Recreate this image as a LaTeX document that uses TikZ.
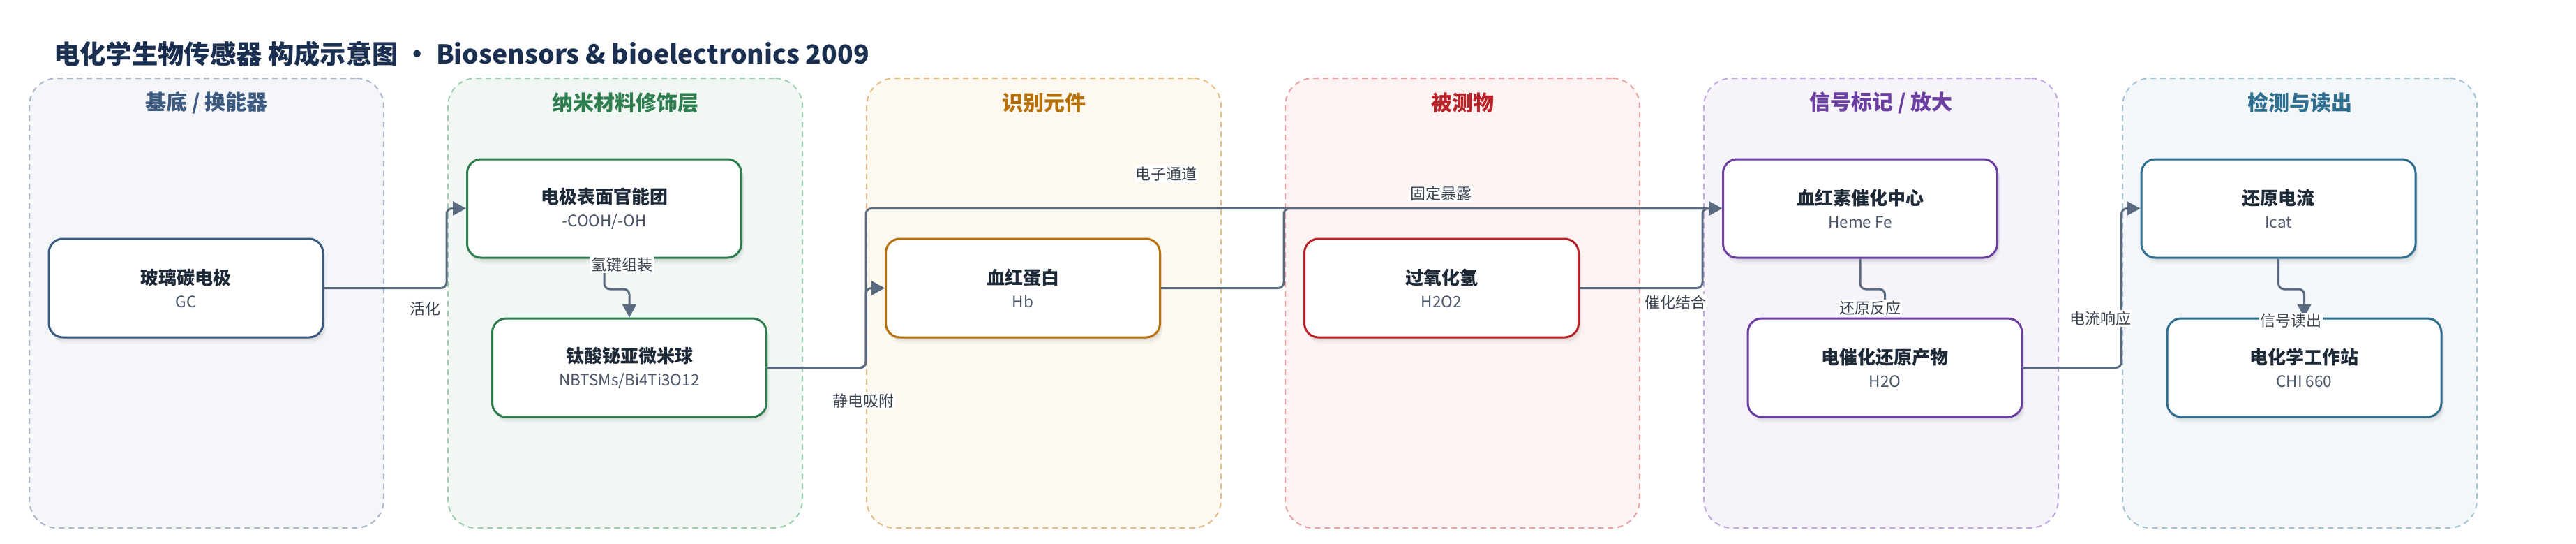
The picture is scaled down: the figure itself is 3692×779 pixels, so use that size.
\documentclass[tikz,border=0pt]{standalone}
\usepackage{fontspec}
\setmainfont{Noto Sans CJK SC}
\usetikzlibrary{arrows.meta,shadows,calc}
\definecolor{titlecol}{HTML}{1B3050}
\definecolor{pfa}{HTML}{F4F6FA}\definecolor{pda}{HTML}{A9B5C8}\definecolor{pta}{HTML}{3D5A80}
\definecolor{pfb}{HTML}{F1F8F3}\definecolor{pdb}{HTML}{9CCDB0}\definecolor{ptb}{HTML}{2E7D4F}
\definecolor{pfc}{HTML}{FDF8F0}\definecolor{pdc}{HTML}{E3BC85}\definecolor{ptc}{HTML}{B5700A}
\definecolor{pfd}{HTML}{FDF3F3}\definecolor{pdd}{HTML}{E8A0A0}\definecolor{ptd}{HTML}{B82228}
\definecolor{pfe}{HTML}{F6F3FB}\definecolor{pde}{HTML}{BFA6DE}\definecolor{pte}{HTML}{6B3FA0}
\definecolor{pff}{HTML}{F3F7F9}\definecolor{pdf}{HTML}{A3C3D3}\definecolor{ptf}{HTML}{2E6E8E}
\definecolor{edgecol}{HTML}{5A6A80}
\definecolor{nodetext}{HTML}{1E2A38}
\definecolor{subtext}{HTML}{4A5568}
\definecolor{labeltext}{HTML}{3A4350}
\begin{document}
\begin{tikzpicture}[x=1pt,y=1pt,
  panel/.style={draw, dashed, dash pattern=on 8pt off 6pt, line width=2pt, rounded corners=40pt,
    minimum width=508pt, minimum height=644pt, inner sep=0pt},
  ptitle/.style={font=\bfseries\fontsize{30}{34}\selectfont, inner sep=0pt},
  box/.style={draw, line width=3pt, rounded corners=20pt, fill=white,
    minimum width=393pt, minimum height=141pt, align=center, inner sep=0pt,
    font=\fontsize{22.5}{33}\selectfont, text=subtext,
    general shadow={fill=black, opacity=0.04, shadow xshift=2pt, shadow yshift=-3pt},
    general shadow={fill=black, opacity=0.04, shadow xshift=3pt, shadow yshift=-6pt},
    general shadow={fill=black, opacity=0.03, shadow xshift=4pt, shadow yshift=-9pt}},
  edge/.style={draw=edgecol, line width=3pt, rounded corners=8pt,
    -{Triangle[length=19pt,width=20pt]}},
  lbl/.style={fill=white, inner sep=1.5pt, text=labeltext, font=\fontsize{22}{26}\selectfont}
]
\useasboundingbox (0,0) rectangle (3692,-779);
\newcommand{\bt}[2]{{\bfseries\color{nodetext}\fontsize{26}{33}\selectfont #1}\\#2}

% title
\node[anchor=west, inner sep=0pt, text=titlecol, font=\bfseries\fontsize{37.3}{42}\selectfont]
  (title) at (77,-77) {电化学生物传感器 构成示意图 · Biosensors \& bioelectronics 2009};

% panels
\node[panel, fill=pfa, draw=pda] (p1) at (296,-434) {};
\node[panel, fill=pfb, draw=pdb] (p2) at (896,-434) {};
\node[panel, fill=pfc, draw=pdc] (p3) at (1496,-434) {};
\node[panel, fill=pfd, draw=pdd] (p4) at (2096,-434) {};
\node[panel, fill=pfe, draw=pde] (p5) at (2696,-434) {};
\node[panel, fill=pff, draw=pdf] (p6) at (3296,-434) {};

\node[ptitle, text=pta] (t1) at (296,-147) {基底 / 换能器};
\node[ptitle, text=ptb] (t2) at (896,-147) {纳米材料修饰层};
\node[ptitle, text=ptc] (t3) at (1496,-147) {识别元件};
\node[ptitle, text=ptd] (t4) at (2096,-147) {被测物};
\node[ptitle, text=pte] (t5) at (2696,-147) {信号标记 / 放大};
\node[ptitle, text=ptf] (t6) at (3296,-147) {检测与读出};

% nodes
\node[box, draw=pta] (gc) at (266.5,-412.5) {\bt{玻璃碳电极}{GC}};
\node[box, draw=ptb] (fg) at (866,-298.5) {\bt{电极表面官能团}{-COOH/-OH}};
\node[box, draw=ptb] (nbt) at (902,-526.5) {\bt{钛酸铋亚微米球}{NBTSMs/Bi4Ti3O12}};
\node[box, draw=ptc] (hb) at (1466,-412.5) {\bt{血红蛋白}{Hb}};
\node[box, draw=ptd] (hp) at (2066,-412.5) {\bt{过氧化氢}{H2O2}};
\node[box, draw=pte] (heme) at (2666,-298.5) {\bt{血红素催化中心}{Heme Fe}};
\node[box, draw=pte] (water) at (2701.5,-526.5) {\bt{电催化还原产物}{H2O}};
\node[box, draw=ptf] (icat) at (3265.5,-298.5) {\bt{还原电流}{Icat}};
\node[box, draw=ptf] (chi) at (3302.5,-526.5) {\bt{电化学工作站}{CHI 660}};

% connectors
\draw[edge] (gc.east) -| ([xshift=-28pt]fg.west) -- (fg.west);
\draw[edge] (fg.south) -- ++(0,-43.5) -| (nbt.north);
\draw[edge] (nbt.east) -| ([xshift=-27pt]hb.west) -- (hb.west);
\draw[edge] (nbt.east) -| ($(hb.west |- heme.west)+(-27,0)$) -- (heme.west);
\draw[edge] (hb.east) -| ($(hp.west |- heme.west)+(-28,0)$) -- (heme.west);
\draw[edge] (hp.east) -| ([xshift=-28pt]heme.west) -- (heme.west);
\draw[edge] (heme.south) -- ++(0,-43.5) -| (water.north);
\draw[edge] (water.east) -| ([xshift=-27pt]icat.west) -- (icat.west);
\draw[edge] (icat.south) -- ++(0,-43.5) -| (chi.north);

% labels
\node[lbl] (l1) at (609,-442) {活化};
\node[lbl] (l2) at (891,-379) {氢键组装};
\node[lbl] (l3) at (1237,-574) {静电吸附};
\node[lbl] (l4) at (1671,-249) {电子通道};
\node[lbl] (l5) at (2065,-277.5) {固定暴露};
\node[lbl] (l6) at (2401,-433) {催化结合};
\node[lbl] (l7) at (2680,-441) {还原反应};
\node[lbl] (l8) at (3010,-456) {电流响应};
\node[lbl] (l9) at (3283,-459.5) {信号读出};
\end{tikzpicture}
\end{document}
